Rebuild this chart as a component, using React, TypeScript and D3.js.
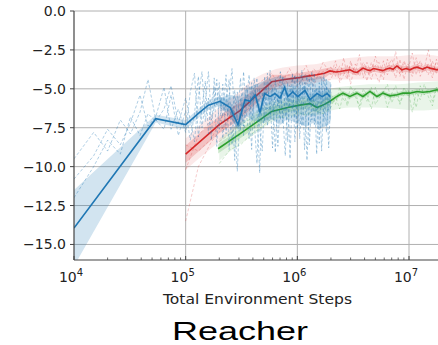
import React from 'react';
import * as d3 from 'd3';

// ---------- data ----------
const yTicks = [0, -2.5, -5, -7.5, -10, -12.5, -15];
const xMajorTicks = [1e4, 1e5, 1e6, 1e7];
const xTickExponents = ['4', '5', '6', '7'];

const blueMeanSteps = [1e4, 5.4e4, 1e5, 1.34e5, 1.6e5, 2.03e5, 2.5e5, 2.94e5, 3.4e5, 3.77e5, 4.2e5, 4.63e5, 5.1e5, 5.7e5, 6.3e5, 7.0e5, 7.7e5, 8.2e5, 9.1e5, 1.01e6, 1.17e6, 1.3e6, 1.5e6, 1.67e6, 1.85e6, 1.97e6];
const blueMeanValues = [-13.95, -6.92, -7.3, -6.5, -6.05, -5.8, -6.2, -7.3, -5.7, -5.8, -5.4, -6.5, -5.3, -5.5, -5.3, -5.6, -4.9, -5.5, -5.2, -5.5, -5.1, -5.7, -5.3, -5.5, -5.3, -5.5];
const blueBandHalf = [2.45, 0.25, 0.3, 0.3, 0.3, 0.3, 0.35, 0.4, 0.35, 0.35, 0.35, 0.4, 0.35, 0.35, 0.35, 0.35, 0.35, 0.35, 0.35, 0.35, 0.35, 0.4, 0.35, 0.35, 0.35, 0.35];

const redMeanSteps = [1e5, 2e5, 3.06e5, 4.2e5, 5.9e5, 7.7e5, 1e6, 1.2e6, 1.5e6, 1.75e6, 1.96e6, 2.2e6, 2.41e6, 2.7e6, 2.96e6, 3.2e6, 3.42e6, 3.87e6, 4.2e6, 4.47e6, 4.8e6, 5.16e6, 5.84e6, 6.3e6, 6.74e6, 7.2e6, 7.8e6, 8.64e6, 9.4e6, 1.02e7, 1.1e7, 1.18e7, 1.33e7, 1.45e7, 1.54e7, 1.65e7, 1.78e7, 1.9e7];
const redMeanValues = [-9.2, -7.3, -6.4, -5.5, -4.55, -4.4, -4.3, -4.2, -4.1, -4.0, -3.85, -3.92, -3.89, -3.82, -3.78, -3.9, -3.95, -3.67, -3.78, -3.83, -3.7, -3.74, -3.83, -3.72, -3.67, -3.75, -3.53, -3.78, -3.7, -3.78, -3.66, -3.61, -3.74, -3.6, -3.67, -3.72, -3.78, -3.7];
const redBandHalf = [0.55, 0.55, 0.55, 0.5, 0.45, 0.3, 0.3, 0.3, 0.3, 0.3, 0.22, 0.2, 0.2, 0.2, 0.2, 0.2, 0.2, 0.2, 0.2, 0.2, 0.2, 0.2, 0.2, 0.2, 0.2, 0.2, 0.2, 0.2, 0.2, 0.2, 0.2, 0.2, 0.2, 0.2, 0.2, 0.2, 0.2, 0.2];

const greenMeanSteps = [1.95e5, 3.06e5, 4.2e5, 5.9e5, 8.2e5, 1.05e6, 1.3e6, 1.5e6, 1.75e6, 1.96e6, 2.26e6, 2.56e6, 2.96e6, 3.42e6, 3.87e6, 4.47e6, 5.16e6, 5.84e6, 6.74e6, 7.8e6, 8.8e6, 1.02e7, 1.18e7, 1.33e7, 1.54e7, 1.78e7, 1.9e7];
const greenMeanValues = [-8.85, -7.9, -7.2, -6.45, -6.2, -6.05, -5.95, -6.2, -6.0, -5.8, -5.49, -5.28, -5.49, -5.28, -5.49, -5.17, -5.49, -5.28, -5.45, -5.38, -5.28, -5.28, -5.17, -5.22, -5.17, -5.06, -5.1];
const greenBandHalf = [0.3, 0.3, 0.3, 0.3, 0.3, 0.3, 0.3, 0.3, 0.3, 0.25, 0.15, 0.15, 0.15, 0.15, 0.15, 0.15, 0.15, 0.15, 0.15, 0.15, 0.15, 0.15, 0.15, 0.15, 0.15, 0.15, 0.15];

// spread of the individual runs (dense noise cloud)
const blueCloudSteps = [2e5, 2.5e5, 3e5, 3.5e5, 4e5, 5e5, 6e5, 7e5, 8e5, 1e6, 1.2e6, 1.4e6, 1.6e6, 1.8e6, 2e6];
const blueCloudLow = [-6.2, -6.8, -7.6, -6.8, -7.0, -7.2, -7.0, -7.3, -7.0, -7.2, -7.4, -7.2, -7.5, -7.4, -7.0];
const blueCloudHigh = [-5.6, -5.4, -5.5, -5.0, -4.8, -4.5, -4.3, -4.2, -4.3, -4.2, -4.1, -4.3, -4.2, -4.4, -4.6];
const redCloudSteps = [1e5, 2e5, 3e5, 4e5, 6e5, 8e5, 1e6, 1.5e6, 2e6, 3e6, 5e6, 8e6, 1.2e7, 1.9e7];
const redCloudLow = [-10.2, -8.4, -7.4, -6.4, -5.2, -4.9, -4.8, -4.6, -4.4, -4.4, -4.4, -4.5, -4.5, -4.5];
const redCloudHigh = [-8.2, -6.2, -5.2, -4.4, -3.8, -3.6, -3.5, -3.4, -3.2, -3.0, -2.9, -2.9, -2.8, -2.9];
const greenCloudSteps = [2e5, 3e5, 4e5, 6e5, 8e5, 1e6, 1.5e6, 2e6, 3e6, 5e6, 8e6, 1.2e7, 1.9e7];
const greenCloudLow = [-9.6, -8.6, -8.0, -7.1, -6.8, -6.7, -6.7, -6.4, -6.2, -6.2, -6.3, -6.4, -6.3];
const greenCloudHigh = [-8.2, -7.2, -6.6, -5.8, -5.6, -5.5, -5.4, -5.0, -4.8, -4.7, -4.7, -4.6, -4.5];

const blueRunSteps = [1e4, 1.5e4, 2e4, 2.6e4, 3.2e4, 3.9e4, 4.6e4, 5.4e4, 6.4e4, 7.4e4, 8.6e4, 1e5, 1.1e5, 1.2e5, 1.3e5, 1.4e5, 1.5e5, 1.6e5, 1.7e5, 1.8e5, 1.9e5, 2e5, 2.15e5, 2.3e5, 2.45e5, 2.6e5, 2.75e5, 2.9e5, 3.1e5, 3.3e5, 3.5e5, 3.7e5, 3.9e5, 4.1e5, 4.35e5, 4.6e5, 4.85e5, 5.1e5, 5.4e5, 5.7e5, 6e5, 6.35e5, 6.7e5, 7.05e5, 7.4e5, 7.8e5, 8.2e5, 8.6e5, 9.05e5, 9.5e5, 1e6, 1.05e6, 1.1e6, 1.16e6, 1.22e6, 1.28e6, 1.35e6, 1.42e6, 1.49e6, 1.57e6, 1.65e6, 1.73e6, 1.82e6, 1.91e6, 2e6];
const blueRunA = [-10.8, -9.3, -7.6, -8.6, -7.2, -5.4, -7.4, -6.8, -4.9, -7.6, -6.3, -7.8, -5.2, -4.0, -8.1, -6.2, -4.5, -7.9, -5.9, -4.9, -8.7, -5.3, -6.8, -4.1, -8.9, -6.0, -9.6, -5.2, -7.7, -3.9, -6.6, -8.2, -4.6, -6.9, -9.8, -5.0, -6.4, -4.2, -7.4, -5.6, -8.8, -4.4, -6.1, -3.9, -7.2, -5.0, -8.4, -4.8, -6.3, -4.1, -7.6, -5.4, -3.8, -8.9, -5.9, -4.3, -7.0, -5.1, -9.2, -4.6, -6.2, -4.0, -7.8, -5.0, -6.0];
const blueRunB = [-9.5, -7.8, -9.0, -7.0, -7.9, -6.5, -4.4, -7.0, -7.6, -5.4, -8.0, -6.4, -8.3, -6.6, -4.2, -7.5, -5.8, -3.9, -7.0, -6.2, -4.4, -7.6, -4.7, -7.9, -5.5, -3.7, -7.1, -10.3, -5.6, -7.4, -4.8, -6.0, -8.9, -4.3, -6.2, -10.4, -5.2, -7.1, -4.0, -6.9, -4.9, -9.1, -5.3, -7.0, -4.2, -6.8, -4.6, -9.5, -5.0, -6.9, -4.3, -8.2, -5.5, -4.6, -9.6, -6.0, -3.9, -7.3, -5.0, -8.5, -4.4, -7.1, -4.8, -8.8, -5.2];
const blueRunC = [-12.0, -10.0, -8.3, -9.2, -6.8, -8.0, -6.6, -7.1, -6.3, -4.8, -7.2, -5.6, -7.0, -8.4, -5.5, -3.9, -7.1, -5.6, -8.3, -4.3, -6.1, -4.6, -8.2, -5.8, -4.4, -8.6, -5.1, -7.0, -4.3, -8.0, -5.9, -4.1, -7.1, -5.5, -4.3, -7.6, -9.0, -5.6, -6.3, -3.8, -6.5, -5.4, -8.7, -5.2, -6.6, -9.3, -5.2, -6.2, -4.0, -8.4, -5.8, -4.5, -7.4, -5.1, -4.2, -8.6, -5.6, -4.0, -6.4, -5.0, -9.0, -5.5, -4.4, -6.5, -4.7];

const redRunSteps = [1e5, 1.3e5, 1.7e5, 2.2e5, 2.8e5, 3.6e5, 4.6e5, 5.9e5, 7e5, 8.5e5, 1e6, 1.2e6, 1.4e6, 1.7e6, 2e6, 2.2e6, 2.4e6, 2.6e6, 2.8e6, 3.0e6, 3.3e6, 3.6e6, 3.9e6, 4.2e6, 4.6e6, 5e6, 5.4e6, 5.9e6, 6.4e6, 7e6, 7.6e6, 8.3e6, 9e6, 9.8e6, 1.07e7, 1.16e7, 1.26e7, 1.37e7, 1.49e7, 1.62e7, 1.76e7, 1.9e7];
const redRunA = [-10.2, -8.0, -7.0, -7.6, -5.9, -5.4, -4.6, -4.0, -4.9, -3.7, -4.6, -3.5, -4.8, -3.3, -4.1, -3.2, -4.4, -3.0, -4.2, -3.4, -3.9, -2.8, -4.3, -3.3, -4.0, -2.9, -3.8, -4.4, -3.1, -3.9, -2.6, -4.2, -3.3, -3.8, -2.7, -4.1, -3.2, -3.7, -2.5, -3.9, -3.3, -3.6];
const redRunB = [-8.6, -9.0, -8.2, -6.6, -7.1, -6.3, -5.6, -5.0, -4.0, -4.8, -3.9, -4.7, -3.7, -4.5, -4.4, -3.6, -4.6, -4.1, -3.5, -4.7, -3.4, -4.2, -3.6, -4.5, -3.3, -4.0, -4.6, -3.2, -4.1, -3.5, -4.3, -3.1, -4.4, -3.4, -4.0, -3.0, -4.2, -3.6, -4.1, -3.2, -4.0, -3.5];
const redRunC = [-13.5, -10.0, -8.4, -7.4, -6.1, -5.9, -5.0, -4.8, -4.3, -4.1, -4.9, -4.0, -4.2, -3.9, -3.6, -4.2, -3.5, -3.9, -4.4, -3.2, -4.1, -3.9, -3.3, -3.7, -4.4, -3.5, -3.3, -4.0, -3.6, -3.1, -3.8, -4.0, -3.2, -3.7, -4.2, -3.5, -3.3, -3.9, -3.4, -4.3, -3.1, -3.8];

const greenRunSteps = [2e5, 2.5e5, 3.1e5, 3.9e5, 4.9e5, 5.9e5, 7e5, 8.5e5, 1e6, 1.2e6, 1.4e6, 1.7e6, 2e6, 2.2e6, 2.4e6, 2.6e6, 2.8e6, 3.0e6, 3.3e6, 3.6e6, 3.9e6, 4.2e6, 4.6e6, 5e6, 5.4e6, 5.9e6, 6.4e6, 7e6, 7.6e6, 8.3e6, 9e6, 9.8e6, 1.07e7, 1.16e7, 1.26e7, 1.37e7, 1.49e7, 1.62e7, 1.76e7, 1.9e7];
const greenRunA = [-9.8, -8.9, -8.6, -7.9, -7.4, -6.9, -6.8, -6.9, -6.5, -6.7, -6.4, -6.6, -6.2, -5.5, -6.3, -5.2, -6.1, -5.4, -5.0, -6.4, -5.3, -5.8, -4.9, -6.0, -5.6, -5.1, -6.2, -5.3, -4.8, -5.9, -5.4, -5.0, -6.5, -5.2, -5.7, -4.7, -5.5, -6.1, -5.0, -5.6];
const greenRunB = [-8.4, -7.9, -7.3, -6.9, -6.4, -6.1, -5.9, -5.8, -5.7, -5.6, -5.8, -5.9, -5.3, -6.0, -4.9, -5.7, -5.9, -4.8, -5.5, -6.1, -5.0, -5.4, -6.3, -4.9, -5.6, -5.2, -4.7, -5.9, -5.3, -6.0, -4.9, -5.5, -5.1, -6.2, -4.8, -5.4, -5.0, -5.8, -4.9, -5.2];

const seriesList = [
  { key: 'red', color: '#d62728', meanSteps: redMeanSteps, meanValues: redMeanValues, bandHalf: redBandHalf, runSteps: redRunSteps, runs: [redRunA, redRunB, redRunC], cloudSteps: redCloudSteps, cloudLow: redCloudLow, cloudHigh: redCloudHigh, cloudOpacity: 0.1, runOpacity: 0.3 },
  { key: 'green', color: '#2ca02c', meanSteps: greenMeanSteps, meanValues: greenMeanValues, bandHalf: greenBandHalf, runSteps: greenRunSteps, runs: [greenRunA, greenRunB], cloudSteps: greenCloudSteps, cloudLow: greenCloudLow, cloudHigh: greenCloudHigh, cloudOpacity: 0.1, runOpacity: 0.3 },
  { key: 'blue', color: '#1f77b4', meanSteps: blueMeanSteps, meanValues: blueMeanValues, bandHalf: blueBandHalf, runSteps: blueRunSteps, runs: [blueRunA, blueRunB, blueRunC], cloudSteps: blueCloudSteps, cloudLow: blueCloudLow, cloudHigh: blueCloudHigh, cloudOpacity: 0.25, runOpacity: 0.45 },
];

export default function App() {
  const W = 438, H = 345;
  const left = 74, bottom = 260, top = 11;
  const x = d3.scaleLog().domain([1e4, 1e7]).range([left, 409]);
  const y = d3.scaleLinear().domain([-16, 0]).range([bottom, top]);

  const line = d3.line<[number, number]>().x(d => x(d[0])).y(d => y(d[1]));
  const area = d3.area<[number, number, number]>()
    .x(d => x(d[0]))
    .y0(d => y(d[1] - d[2]))
    .y1(d => y(d[1] + d[2]));
  const cloud = d3.area<[number, number, number]>()
    .x(d => x(d[0]))
    .y0(d => y(d[1]))
    .y1(d => y(d[2]))
    .curve(d3.curveMonotoneX);

  const minorTicks: number[] = [];
  [1e4, 1e5, 1e6, 1e7].forEach(dec => {
    for (let k = 2; k <= 9; k++) {
      const v = dec * k;
      if (x(v) < W) minorTicks.push(v);
    }
  });

  const tickFont = "'DejaVu Sans', sans-serif";

  return (
    <svg width={W} height={H} style={{ position: 'absolute', left: 0, top: 0, background: '#fff' }}>
      <defs>
        <clipPath id="plot">
          <rect x={left} y={top} width={W - left} height={bottom - top} />
        </clipPath>
      </defs>
      {/* grid */}
      {yTicks.map(t => (
        <line key={'gy' + t} x1={left} x2={W} y1={y(t)} y2={y(t)} stroke="#b0b0b0" strokeWidth={1} />
      ))}
      {xMajorTicks.slice(1).map(t => (
        <line key={'gx' + t} x1={x(t)} x2={x(t)} y1={top} y2={bottom} stroke="#b0b0b0" strokeWidth={1} />
      ))}
      <g clipPath="url(#plot)">
        {seriesList.map(s => (
          <g key={s.key}>
            <path d={cloud(s.cloudSteps.map((st, j) => [st, s.cloudLow[j], s.cloudHigh[j]] as [number, number, number])) || ''}
              fill={s.color} fillOpacity={s.cloudOpacity} stroke="none" />
            {s.runs.map((r, i) => (
              <path key={i} d={line(s.runSteps.map((st, j) => [st, r[j]] as [number, number])) || ''}
                fill="none" stroke={s.color} strokeOpacity={s.runOpacity} strokeWidth={0.8} strokeDasharray="3,2" />
            ))}
            <path d={area(s.meanSteps.map((st, j) => [st, s.meanValues[j], s.bandHalf[j]] as [number, number, number])) || ''}
              fill={s.color} fillOpacity={0.2} stroke="none" />
            <path d={line(s.meanSteps.map((st, j) => [st, s.meanValues[j]] as [number, number])) || ''}
              fill="none" stroke={s.color} strokeWidth={1.6} />
          </g>
        ))}
      </g>
      {/* spines */}
      <line x1={left} x2={left} y1={top} y2={bottom} stroke="#444" strokeWidth={1.2} />
      <line x1={left} x2={W} y1={bottom} y2={bottom} stroke="#444" strokeWidth={1.2} />
      {/* y ticks */}
      {yTicks.map(t => (
        <g key={'yt' + t}>
          <line x1={left - 4} x2={left} y1={y(t)} y2={y(t)} stroke="#444" strokeWidth={1} />
          <text x={left - 8} y={y(t)} dy="0.36em" textAnchor="end" fontFamily={tickFont} fontSize={14} fill="#222">
            {d3.format('.1f')(t).replace('-', '\u2212')}
          </text>
        </g>
      ))}
      {/* x minor ticks */}
      {minorTicks.map(t => (
        <line key={'mt' + t} x1={x(t)} x2={x(t)} y1={bottom} y2={bottom - 2.5} stroke="#444" strokeWidth={0.8} />
      ))}
      {xMajorTicks.map((t, i) => (
        <g key={'xt' + t}>
          <line x1={x(t)} x2={x(t)} y1={bottom} y2={bottom - 4} stroke="#444" strokeWidth={1} />
          <text x={x(t) - 3} y={282} textAnchor="middle" fontFamily={tickFont} fontSize={14} fill="#222">
            10<tspan fontSize={10} dy={-6}>{xTickExponents[i]}</tspan>
          </text>
        </g>
      ))}
      <text x={257.5} y={304} textAnchor="middle" fontFamily={tickFont} fontSize={13.5} fill="#222"
        textLength={189} lengthAdjust="spacingAndGlyphs">Total Environment Steps</text>
      <text x={240} y={340} textAnchor="middle" fontFamily="'Liberation Sans', Arial, sans-serif" fontSize={26} fill="#000"
        textLength={136} lengthAdjust="spacingAndGlyphs">Reacher</text>
    </svg>
  );
}
